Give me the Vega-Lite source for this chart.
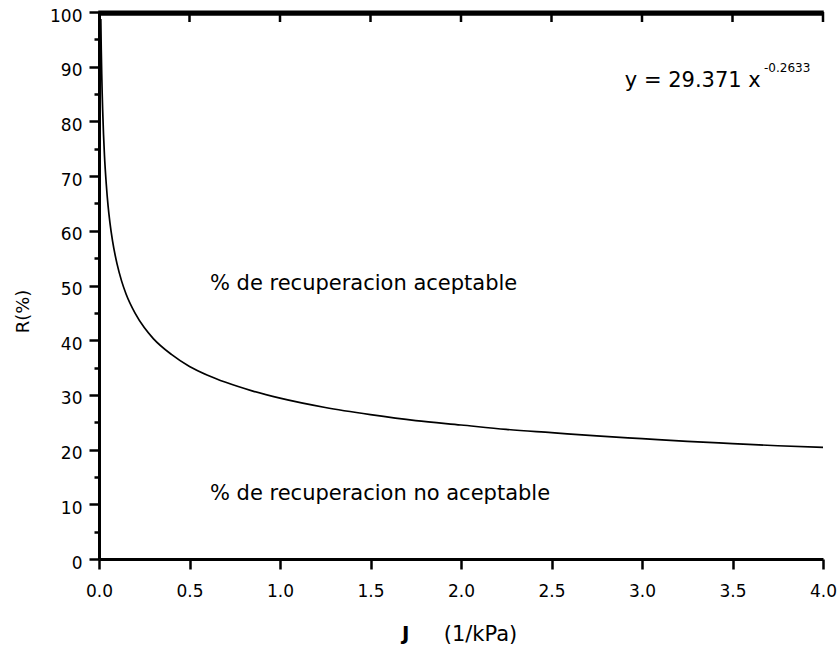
{
  "$schema": "https://vega.github.io/schema/vega-lite/v6.json",
  "width": 724,
  "height": 547,
  "autosize": {"type": "none"},
  "padding": {"left": 99, "top": 12, "right": 16, "bottom": 88},
  "background": "white",
  "config": {
    "view": {"stroke": null},
    "axis": {
      "grid": false,
      "domainColor": "black",
      "domainWidth": 3,
      "tickColor": "black",
      "tickWidth": 2.5,
      "labelFont": "DejaVu Sans",
      "labelFontSize": 17,
      "labelColor": "black",
      "labelFlush": false,
      "titleFont": "DejaVu Sans",
      "titleColor": "black",
      "titleFontWeight": "normal"
    },
    "text": {"font": "DejaVu Sans", "color": "black"}
  },
  "resolve": {
    "scale": {"x": "independent", "y": "independent"},
    "axis": {"x": "independent", "y": "independent"}
  },
  "layer": [
    {
      "data": {
        "values": [
          {"J": 0.01, "R": 98.7},
          {"J": 0.0125, "R": 93.1},
          {"J": 0.015, "R": 88.8},
          {"J": 0.0175, "R": 85.2},
          {"J": 0.02, "R": 82.3},
          {"J": 0.025, "R": 77.6},
          {"J": 0.03, "R": 73.9},
          {"J": 0.04, "R": 68.6},
          {"J": 0.05, "R": 64.6},
          {"J": 0.06, "R": 61.6},
          {"J": 0.075, "R": 58.1},
          {"J": 0.1, "R": 53.9},
          {"J": 0.125, "R": 50.8},
          {"J": 0.15, "R": 48.4},
          {"J": 0.2, "R": 44.9},
          {"J": 0.25, "R": 42.3},
          {"J": 0.3, "R": 40.3},
          {"J": 0.4, "R": 37.4},
          {"J": 0.5, "R": 35.2},
          {"J": 0.6, "R": 33.6},
          {"J": 0.7, "R": 32.3},
          {"J": 0.85, "R": 30.7},
          {"J": 1.0, "R": 29.4},
          {"J": 1.25, "R": 27.7},
          {"J": 1.5, "R": 26.4},
          {"J": 1.75, "R": 25.3},
          {"J": 2.0, "R": 24.5},
          {"J": 2.25, "R": 23.7},
          {"J": 2.5, "R": 23.1},
          {"J": 2.75, "R": 22.5},
          {"J": 3.0, "R": 22.0},
          {"J": 3.25, "R": 21.5},
          {"J": 3.5, "R": 21.1},
          {"J": 3.75, "R": 20.7},
          {"J": 4.0, "R": 20.4}
        ]
      },
      "mark": {"type": "line", "color": "black", "strokeWidth": 1.7, "interpolate": "monotone"},
      "encoding": {
        "x": {
          "field": "J", "type": "quantitative",
          "scale": {"domain": [0, 4], "nice": false, "zero": false},
          "axis": {
            "orient": "bottom",
            "values": [0, 0.5, 1, 1.5, 2, 2.5, 3, 3.5, 4],
            "format": ".1f",
            "tickSize": 10,
            "labelPadding": 14,
            "title": "(1/kPa)",
            "titleFontSize": 21,
            "titleX": 381,
            "titleY": 81,
            "titleAlign": "center",
            "titleBaseline": "alphabetic"
          }
        },
        "y": {
          "field": "R", "type": "quantitative",
          "scale": {"domain": [0, 100], "nice": false},
          "axis": {
            "orient": "left",
            "values": [0, 10, 20, 30, 40, 50, 60, 70, 80, 90, 100],
            "tickSize": 10,
            "labelPadding": 7,
            "labelOffset": 4,
            "title": "R(%)",
            "titleFontSize": 18,
            "titleX": -76,
            "titleY": 299,
            "titleAngle": -90,
            "titleAlign": "center",
            "titleBaseline": "middle"
          }
        }
      }
    },
    {
      "data": {"values": [{"label": "y = 29.371 x", "J": 2.905, "R": 86.3}]},
      "mark": {"type": "text", "fontSize": 21, "align": "left", "baseline": "alphabetic"},
      "encoding": {
        "text": {"field": "label"},
        "x": {"field": "J", "type": "quantitative", "scale": {"domain": [0, 4], "nice": false, "zero": false}, "axis": null},
        "y": {
          "field": "R", "type": "quantitative",
          "scale": {"domain": [0, 100], "nice": false},
          "axis": {
            "orient": "left",
            "values": [5, 15, 25, 35, 45, 55, 65, 75, 85, 95],
            "labels": false,
            "domain": false,
            "tickSize": 5,
            "title": null
          }
        }
      }
    },
    {
      "data": {"values": [{"label": "-0.2633", "J": 3.674, "R": 89.0}]},
      "mark": {"type": "text", "fontSize": 12, "align": "left", "baseline": "alphabetic"},
      "encoding": {
        "text": {"field": "label"},
        "x": {"field": "J", "type": "quantitative", "scale": {"domain": [0, 4], "nice": false, "zero": false}, "axis": null},
        "y": {"field": "R", "type": "quantitative", "scale": {"domain": [0, 100], "nice": false}, "axis": null}
      }
    },
    {
      "data": {
        "values": [
          {"label": "% de recuperacion aceptable", "J": 0.613, "R": 49.2},
          {"label": "% de recuperacion no aceptable", "J": 0.613, "R": 10.8}
        ]
      },
      "mark": {"type": "text", "fontSize": 21, "align": "left", "baseline": "alphabetic"},
      "encoding": {
        "text": {"field": "label"},
        "x": {"field": "J", "type": "quantitative", "scale": {"domain": [0, 4], "nice": false, "zero": false}, "axis": null},
        "y": {"field": "R", "type": "quantitative", "scale": {"domain": [0, 100], "nice": false}, "axis": null}
      }
    },
    {
      "data": {"values": [{"label": "J", "J": 1.674, "R": -14.8}]},
      "mark": {"type": "text", "fontSize": 20, "fontWeight": "bold", "align": "left", "baseline": "alphabetic"},
      "encoding": {
        "text": {"field": "label"},
        "x": {"field": "J", "type": "quantitative", "scale": {"domain": [0, 4], "nice": false, "zero": false}, "axis": null},
        "y": {"field": "R", "type": "quantitative", "scale": {"domain": [0, 100], "nice": false}, "axis": null}
      }
    },
    {
      "data": {"values": [{"J0": -0.004, "J1": 4.004, "R0": 99.3, "R1": 100.28}]},
      "mark": {"type": "rect", "color": "black"},
      "encoding": {
        "x": {"field": "J0", "type": "quantitative", "scale": {"domain": [0, 4], "nice": false, "zero": false}, "axis": null},
        "x2": {"field": "J1"},
        "y": {"field": "R0", "type": "quantitative", "scale": {"domain": [0, 100], "nice": false, "zero": false}, "axis": null},
        "y2": {"field": "R1"}
      }
    },
    {
      "data": {"values": [{"J": 0.5}, {"J": 1.0}, {"J": 1.5}, {"J": 2.0}, {"J": 2.5}, {"J": 3.0}, {"J": 3.5}, {"J": 4.0}]},
      "mark": {"type": "rule", "color": "black", "strokeWidth": 2.5},
      "encoding": {
        "x": {"field": "J", "type": "quantitative", "scale": {"domain": [0, 4], "nice": false, "zero": false}, "axis": null},
        "y": {"datum": 100, "type": "quantitative", "scale": {"domain": [0, 100], "nice": false}, "axis": null},
        "y2": {"datum": 98.17}
      }
    }
  ]
}
